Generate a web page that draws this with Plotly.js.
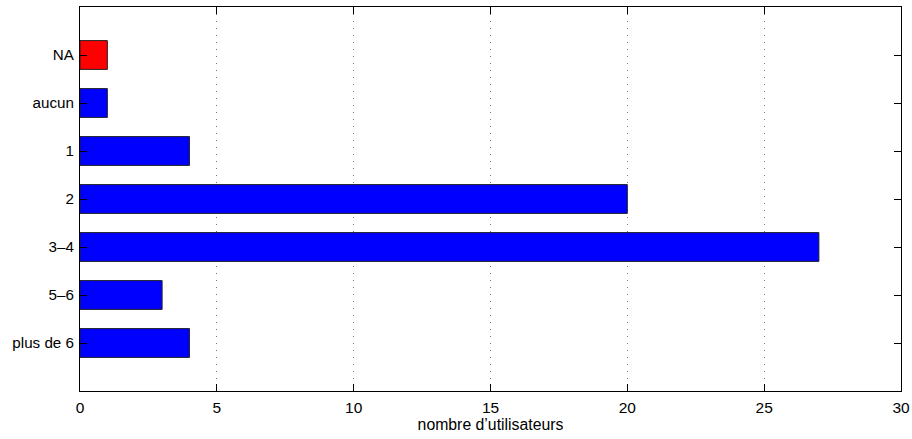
<!DOCTYPE html>
<html>
<head>
<meta charset="utf-8">
<script src="https://cdn.plot.ly/plotly-3.0.1.min.js"></script>
<style>html,body{margin:0;padding:0;background:#fff;}#chart{width:912px;height:439px;}</style>
</head>
<body>
<div id="chart"></div>
<script>
const categories = ["NA", "aucun", "1", "2", "3–4", "5–6", "plus de 6"];
const values = [1, 1, 4, 20, 27, 3, 4];
const barColors = ["#ff0000", "#0000ff", "#0000ff", "#0000ff", "#0000ff", "#0000ff", "#0000ff"];
const xTicks = [0, 5, 10, 15, 20, 25, 30];

const trace = {
  type: "bar",
  orientation: "h",
  x: values,
  y: categories,
  width: 0.6,
  marker: { color: barColors, line: { color: "#222222", width: 1 } },
  hoverinfo: "x+y"
};

const layout = {
  width: 912, height: 439,
  margin: { l: 80, r: 11, t: 7, b: 48 },
  paper_bgcolor: "#ffffff", plot_bgcolor: "#ffffff",
  font: { family: "Liberation Sans, Arial, sans-serif", size: 15, color: "#000" },
  showlegend: false,
  bargap: 0.4,
  xaxis: {
    range: [0, 30], autorange: false,
    tickvals: xTicks, ticktext: xTicks.map(String),
    ticks: "inside", ticklen: 7, tickcolor: "#000", tickwidth: 1,
    showline: true, linecolor: "#000", linewidth: 1, mirror: "allticks",
    showgrid: true, gridcolor: "#777", griddash: "1px,6px", gridwidth: 1,
    zeroline: false,
    tickfont: { size: 15.5 }, ticklabelstandoff: 2,
    title: { text: "nombre d’utilisateurs", font: { size: 15.8 }, standoff: 3 }
  },
  yaxis: {
    type: "category",
    categoryorder: "array", categoryarray: categories,
    range: [7, -1], autorange: false,
    ticks: "inside", ticklen: 7, tickcolor: "#000", tickwidth: 1,
    showline: true, linecolor: "#000", linewidth: 1, mirror: "allticks",
    showgrid: false, zeroline: false,
    tickfont: { size: 15.2 }, ticklabelstandoff: 2
  }
};

Plotly.newPlot("chart", [trace], layout, { displayModeBar: false, staticPlot: true });
</script>
</body>
</html>
